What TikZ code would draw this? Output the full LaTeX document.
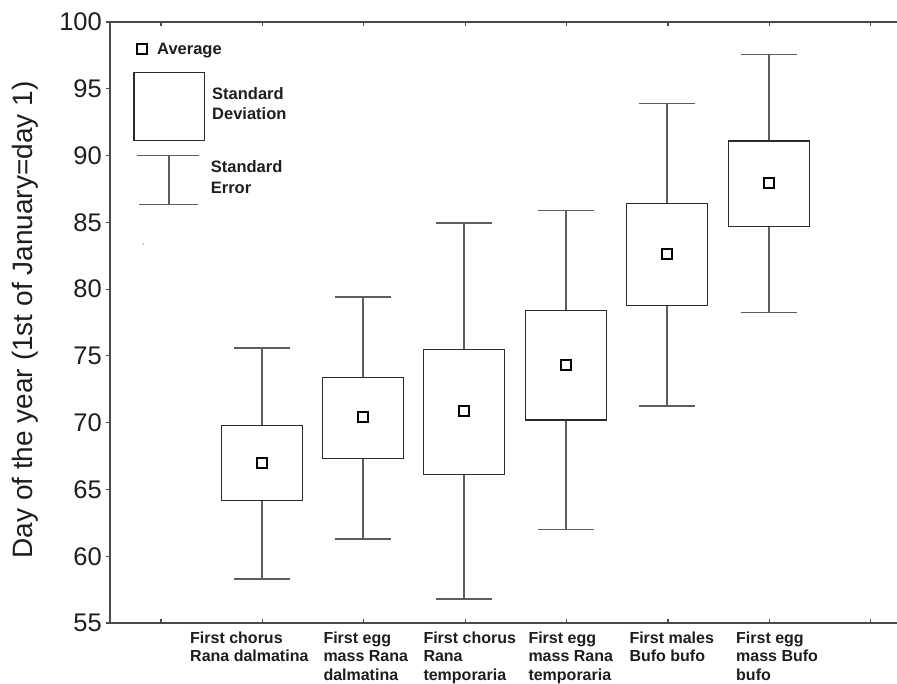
\documentclass[tikz,border=0pt]{standalone}
\usepackage{fontspec}
\setmainfont{Liberation Sans}
\definecolor{whiskc}{HTML}{5E5E5E}
\definecolor{boxc}{HTML}{2A2A2A}
\definecolor{axc}{HTML}{4A4A4A}
\definecolor{txtc}{HTML}{1E1E1E}
\tikzset{
  whisk/.style={draw=whiskc, line width=1.4pt},
  sdbox/.style={draw=boxc, line width=1.3pt, fill=white},
  meanmk/.style={draw=black, line width=2pt, fill=white},
  axisline/.style={draw=axc, line width=1.4pt},
  tickmk/.style={draw=axc, line width=1.1pt},
  ticklab/.style={font=\fontsize{25.5}{26}\selectfont, anchor=east, text=txtc, inner sep=0pt},
  catlab/.style={font=\fontsize{16}{18}\selectfont\bfseries, anchor=base west, text=txtc, inner sep=0pt},
  leglab/.style={font=\fontsize{16.5}{18}\selectfont\bfseries, anchor=base west, text=txtc, inner sep=0pt},
}
\newcommand{\vy}[1]{(22+(100-#1)*13.356)}
\newcommand{\bxplot}[6]{%
  \draw[whisk] ({#1-28},{\vy{#2}}) -- ({#1+28},{\vy{#2}});
  \draw[whisk] (#1,{\vy{#2}}) -- (#1,{\vy{#3}});
  \draw[whisk] (#1,{\vy{#5}}) -- (#1,{\vy{#6}});
  \draw[whisk] ({#1-28},{\vy{#6}}) -- ({#1+28},{\vy{#6}});
  \draw[sdbox] ({#1-40.5},{\vy{#3}}) rectangle ({#1+40.5},{\vy{#5}});
  \draw[meanmk] ({#1-5},{\vy{#4}-5}) rectangle ({#1+5},{\vy{#4}+5});
}
\begin{document}
\begin{tikzpicture}[x=1pt,y=-1pt]
\useasboundingbox[fill=white] (0,0) rectangle (897,683);

% axes
\draw[axisline] (897,22) -- (110,22) -- (110,{\vy{55}}) -- (897,{\vy{55}});
% y ticks and labels
\foreach \v in {55,60,...,100}{
  \draw[tickmk] (106,{\vy{\v}}) -- (110,{\vy{\v}});
  \node[ticklab] at (102,{\vy{\v}}) {\v};
}
% x ticks (bottom and top)
\foreach \k in {0,...,7}{
  \draw[tickmk] ({161+101.4*\k},{\vy{55}}) -- ({161+101.4*\k},{\vy{55}-4});
  \draw[tickmk] ({161+101.4*\k},22) -- ({161+101.4*\k},26);
}

% y axis label
\node[rotate=90, anchor=base, font=\fontsize{28}{30}\selectfont, text=txtc, inner sep=0pt] (ylab) at (32,320) {Day of the year (1st of January=day 1)};

% box plots: x, whisker top, box top, mean, box bottom, whisker bottom
\bxplot{262}{75.6}{69.8}{67.0}{64.15}{58.3}
\bxplot{363}{79.4}{73.4}{70.4}{67.3}{61.3}
\bxplot{464}{84.95}{75.5}{70.9}{66.1}{56.8}
\bxplot{566}{85.9}{78.4}{74.3}{70.2}{62.0}
\bxplot{667}{93.9}{86.4}{82.6}{78.8}{71.25}
\bxplot{769}{97.55}{91.1}{87.95}{84.7}{78.25}

% legend
\draw[meanmk] (137,44) rectangle (147,54);
\node[leglab] (lavg) at (157,54.5) {Average};
\draw[sdbox] (134,72.3) rectangle (204.7,140.3);
\node[leglab] (lsd1) at (212,99) {Standard};
\node[leglab] (lsd2) at (212,119) {Deviation};
\draw[whisk] (136.7,155.7) -- (198.7,155.7);
\draw[whisk] (169,155.7) -- (169,204.3);
\draw[whisk] (139,204.3) -- (197.7,204.3);
\node[leglab] (lse1) at (210.7,172) {Standard};
\node[leglab] (lse2) at (210.7,193) {Error};
\fill[whiskc!60] (143,244) circle (0.8);

% category labels
\node[catlab] (c1a) at (190,643.3) {First chorus};
\node[catlab] (c1b) at (190,661.7) {Rana dalmatina};
\node[catlab] (c2a) at (323.3,643.3) {First egg};
\node[catlab] (c2b) at (323.3,661.7) {mass Rana};
\node[catlab] (c2c) at (323.3,680) {dalmatina};
\node[catlab] (c3a) at (423.3,643.3) {First chorus};
\node[catlab] (c3b) at (423.3,661.7) {Rana};
\node[catlab] (c3c) at (423.3,680) {temporaria};
\node[catlab] (c4a) at (528.3,643.3) {First egg};
\node[catlab] (c4b) at (528.3,661.7) {mass Rana};
\node[catlab] (c4c) at (528.3,680) {temporaria};
\node[catlab] (c5a) at (629.3,643.3) {First males};
\node[catlab] (c5b) at (629.3,661.7) {Bufo bufo};
\node[catlab] (c6a) at (736,643.3) {First egg};
\node[catlab] (c6b) at (736,661.7) {mass Bufo};
\node[catlab] (c6c) at (736,680) {bufo};
\end{tikzpicture}
\end{document}
